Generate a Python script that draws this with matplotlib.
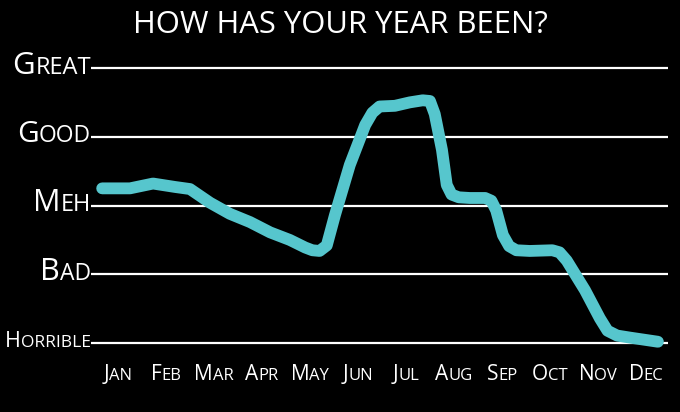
import matplotlib
matplotlib.use('Agg')
import matplotlib.pyplot as plt
import matplotlib.transforms as mtransforms
from matplotlib.offsetbox import TextArea, HPacker, AnnotationBbox

# data
months = ['Jan', 'Feb', 'Mar', 'Apr', 'May', 'Jun', 'Jul', 'Aug', 'Sep', 'Oct', 'Nov', 'Dec']
moods = ['Horrible', 'Bad', 'Meh', 'Good', 'Great']

# hand drawn line: position in months (0 = Jan) and mood (0 = horrible, 4 = great)
t = [-0.33, 0.25, 0.73, 1.19, 1.5, 1.92, 2.33, 2.75, 3.17, 3.58, 3.9, 4.05, 4.2, 4.35,
     4.52, 4.83, 5.15, 5.3, 5.45, 5.77, 6.08, 6.35, 6.5, 6.6, 6.75, 6.85, 6.95, 7.1,
     7.33, 7.65, 7.78, 7.88, 8.02, 8.15, 8.3, 8.58, 9.05, 9.2, 9.35, 9.73, 10.04,
     10.2, 10.4, 10.67, 11.25]
mood = [2.25, 2.25, 2.32, 2.27, 2.24, 2.04, 1.88, 1.76, 1.61, 1.50, 1.39, 1.35, 1.34, 1.42,
        1.86, 2.59, 3.17, 3.35, 3.44, 3.45, 3.50, 3.53, 3.52, 3.33, 2.81, 2.30, 2.16, 2.12,
        2.11, 2.11, 2.07, 1.93, 1.57, 1.41, 1.35, 1.34, 1.35, 1.32, 1.20, 0.77, 0.36,
        0.18, 0.11, 0.08, 0.02]

FONT = 'Open Sans'
line_col = '#56c6cd'

fig = plt.figure(figsize=(6.8, 4.12), dpi=100, facecolor='black')
ax = fig.add_axes([91/680, 1-350/412, 577/680, 290/412])
ax.set_facecolor('black')
ax.set_xlim(-0.5625, 11.46)
ax.set_ylim(-0.10, 4.116)
ax.axis('off')

for i in range(len(moods)):
    ax.axhline(i, color='white', lw=1.6, zorder=1)

ax.plot(t, mood, color=line_col, lw=8.5, solid_capstyle='round',
        solid_joinstyle='round', zorder=3)


# fake small caps: big first letter, smaller rest
def small_caps(word, big, small):
    a = TextArea(word[0].upper(), textprops=dict(color='white', fontsize=big, family=FONT))
    b = TextArea(word[1:].upper(), textprops=dict(color='white', fontsize=small, family=FONT))
    return HPacker(children=[a, b], align='baseline', pad=0, sep=0)


ysizes = {'Horrible': (15.5, 12.5), 'Bad': (22, 16.5), 'Meh': (22, 17),
          'Good': (21.5, 16.5), 'Great': (22.5, 17)}
for i, m in enumerate(moods):
    big, small = ysizes[m]
    ab = AnnotationBbox(small_caps(m, big, small), (0, i),
                        xycoords=ax.get_yaxis_transform(),
                        box_alignment=(1, 0.42), frameon=False, pad=0)
    ax.add_artist(ab)

mt = mtransforms.blended_transform_factory(ax.transData, fig.transFigure)
for i, m in enumerate(months):
    ab = AnnotationBbox(small_caps(m, 15, 12), (i, 1-374/412), xycoords=mt,
                        box_alignment=(0.5, 0.5), frameon=False, pad=0,
                        annotation_clip=False)
    ax.add_artist(ab)

fig.text(0.5, 1-25/412, 'HOW HAS YOUR YEAR BEEN?', color='white', fontsize=22.3,
         family=FONT, ha='center', va='center')

fig.savefig('out.png', facecolor='black')
